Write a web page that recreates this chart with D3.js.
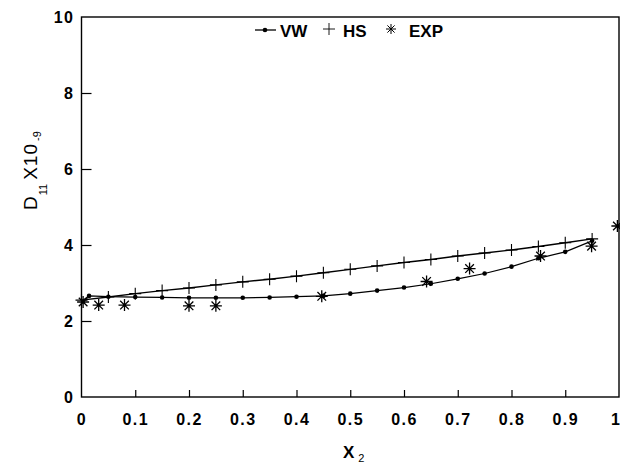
<!DOCTYPE html>
<html>
<head>
<meta charset="utf-8">
<script src="https://cdn.jsdelivr.net/npm/d3@7/dist/d3.min.js"></script>
<style>
  body { margin: 0; background: #fff; }
  svg { display: block; }
  .axis text { font-family: "Liberation Sans", Arial, sans-serif; font-weight: bold; font-size: 16px; letter-spacing: 1.5px; fill: #000; }
  .axis line { stroke: #000; stroke-width: 1.2; }
  .axis path { display: none; }
</style>
</head>
<body>
<div id="svg-container"></div>
<script>
/* global d3 */
(function () {
  'use strict'

  // VW model curve
  var vwX = [0, 0.014, 0.05, 0.1, 0.15, 0.2, 0.25, 0.3, 0.35, 0.4, 0.45, 0.5, 0.55, 0.6, 0.65, 0.7, 0.75, 0.8, 0.85, 0.9, 0.95]
  var vwY = [2.52, 2.66, 2.64, 2.63, 2.62, 2.61, 2.61, 2.61, 2.62, 2.64, 2.66, 2.72, 2.80, 2.88, 2.98, 3.11, 3.25, 3.43, 3.65, 3.82, 4.11]

  // HS model curve
  var hsX = [0, 0.05, 0.1, 0.15, 0.2, 0.25, 0.3, 0.35, 0.4, 0.45, 0.5, 0.55, 0.6, 0.65, 0.7, 0.75, 0.8, 0.85, 0.9, 0.95]
  var hsY = [2.55, 2.63, 2.72, 2.80, 2.87, 2.95, 3.03, 3.10, 3.18, 3.27, 3.36, 3.45, 3.54, 3.62, 3.71, 3.79, 3.87, 3.96, 4.06, 4.16]

  // experimental points
  var expX = [0.003, 0.032, 0.08, 0.2, 0.25, 0.447, 0.642, 0.722, 0.854, 0.949, 0.997]
  var expY = [2.50, 2.42, 2.42, 2.40, 2.40, 2.65, 3.04, 3.38, 3.71, 3.97, 4.50]

  var xTicks = [0, 0.1, 0.2, 0.3, 0.4, 0.5, 0.6, 0.7, 0.8, 0.9, 1]
  var xTickLabels = ['0', '0.1', '0.2', '0.3', '0.4', '0.5', '0.6', '0.7', '0.8', '0.9', '1']
  var yTicks = [0, 2, 4, 6, 8, 10]

  var dimensions = { w: 620, h: 465 }
  var offset = { left: 81.5, top: 17, right: 1, bottom: 68 }

  var svg = d3.select('#svg-container').append('svg')
    .attr('width', dimensions.w)
    .attr('height', dimensions.h)

  var x = d3.scaleLinear().domain([0, 1])
    .range([offset.left, dimensions.w - offset.right])
  var y = d3.scaleLinear().domain([0, 10])
    .range([dimensions.h - offset.bottom, offset.top])

  function zip (xs, ys) {
    return xs.map(function (v, i) { return { x: v, y: ys[i] } })
  }
  var vw = zip(vwX, vwY)
  var hs = zip(hsX, hsY)
  var exp = zip(expX, expY)

  // frame
  svg.append('rect')
    .attr('x', x(0)).attr('y', y(10))
    .attr('width', x(1) - x(0)).attr('height', y(0) - y(10))
    .attr('fill', 'none').attr('stroke', '#000').attr('stroke-width', 1.4)

  // axes, ticks pointing into the plot
  svg.append('g').attr('class', 'x axis')
    .attr('transform', 'translate(0,' + y(0) + ')')
    .call(d3.axisBottom(x).tickValues(xTicks)
      .tickFormat(function (d, i) { return xTickLabels[i] })
      .tickSizeInner(-7).tickSizeOuter(0).tickPadding(10))
    .selectAll('text').attr('dy', '1.1em')

  svg.append('g').attr('class', 'y axis')
    .attr('transform', 'translate(' + x(0) + ',0)')
    .call(d3.axisLeft(y).tickValues(yTicks)
      .tickSizeInner(-10).tickSizeOuter(0).tickPadding(7))

  svg.selectAll('.x.axis .tick').filter(function (d) { return d === 0 || d === 1 })
    .select('line').remove()
  svg.selectAll('.y.axis .tick').filter(function (d) { return d === 0 || d === 10 })
    .select('line').remove()
  // last label sits on the page edge: keep it inside
  svg.selectAll('.x.axis .tick').filter(function (d) { return d === 1 })
    .select('text').attr('text-anchor', 'end').attr('x', 2)

  var line = d3.line()
    .x(function (d) { return x(d.x) })
    .y(function (d) { return y(d.y) })

  var chart = svg.append('g').attr('class', 'chart')

  chart.append('path').datum(hs)
    .attr('d', line).attr('fill', 'none')
    .attr('stroke', '#000').attr('stroke-width', 1.4)

  chart.append('path').datum(vw)
    .attr('d', line).attr('fill', 'none')
    .attr('stroke', '#000').attr('stroke-width', 1.2)

  function plusPath (s) {
    return 'M' + (-s) + ',0H' + s + 'M0,' + (-s) + 'V' + s
  }
  function starPath (s) {
    var d = s * 0.72
    return 'M0,' + (-s) + 'V' + s + 'M' + (-s) + ',0H' + s +
      'M' + (-d) + ',' + (-d) + 'L' + d + ',' + d +
      'M' + (-d) + ',' + d + 'L' + d + ',' + (-d)
  }

  chart.selectAll('.hs').data(hs).enter().append('path')
    .attr('class', 'hs')
    .attr('transform', function (d) { return 'translate(' + x(d.x) + ',' + y(d.y) + ')' })
    .attr('d', plusPath(6)).attr('stroke', '#000').attr('stroke-width', 1.1)

  chart.selectAll('.vw').data(vw.slice(1)).enter().append('circle')
    .attr('class', 'vw')
    .attr('cx', function (d) { return x(d.x) })
    .attr('cy', function (d) { return y(d.y) })
    .attr('r', 2.3).attr('fill', '#000')

  chart.selectAll('.exp').data(exp).enter().append('path')
    .attr('class', 'exp')
    .attr('transform', function (d) { return 'translate(' + x(d.x) + ',' + y(d.y) + ')' })
    .attr('d', starPath(6)).attr('stroke', '#000').attr('stroke-width', 1.3)

  // legend
  var legend = svg.append('g').attr('class', 'legend')
  var lf = { 'font-family': '"Liberation Sans", Arial, sans-serif', 'font-weight': 'bold', 'font-size': '17px' }
  legend.append('line').attr('x1', 255).attr('x2', 276).attr('y1', 30).attr('y2', 30)
    .attr('stroke', '#000').attr('stroke-width', 1.3)
  legend.append('circle').attr('cx', 265).attr('cy', 30).attr('r', 2.3)
  legend.append('text').attr('x', 280).attr('y', 37).text('VW')
  legend.append('path').attr('transform', 'translate(329,29)')
    .attr('d', plusPath(6)).attr('stroke', '#000').attr('stroke-width', 0.9)
  legend.append('text').attr('x', 343).attr('y', 37).text('HS')
  legend.append('path').attr('transform', 'translate(391,29)')
    .attr('d', starPath(5)).attr('stroke', '#000').attr('stroke-width', 1)
  legend.append('text').attr('x', 409).attr('y', 37).text('EXP')
  legend.selectAll('text').each(function () {
    var t = d3.select(this)
    Object.keys(lf).forEach(function (k) { t.attr(k, lf[k]) })
  })

  // axis titles
  var xt = svg.append('text')
    .attr('x', 343).attr('y', 458)
    .attr('font-family', '"Liberation Sans", Arial, sans-serif')
    .attr('font-size', '17px').attr('font-weight', 'bold')
  xt.append('tspan').text('X')
  xt.append('tspan').attr('dx', 4).attr('dy', 4)
    .attr('font-size', '11px').attr('font-weight', 'normal').text('2')

  var yt = svg.append('text')
    .attr('transform', 'translate(37,210) rotate(-90)')
    .attr('font-family', '"Liberation Sans", Arial, sans-serif')
    .attr('font-size', '19px')
  yt.append('tspan').text('D')
  yt.append('tspan').attr('dy', 10).attr('dx', 1)
    .attr('font-size', '11px').text('11')
  yt.append('tspan').attr('dy', -10).attr('dx', 4).attr('letter-spacing', '1px').text('X10')
  yt.append('tspan').attr('dy', 4).attr('dx', 2)
    .attr('font-size', '11px').text('-9')
}())
</script>
</body>
</html>
